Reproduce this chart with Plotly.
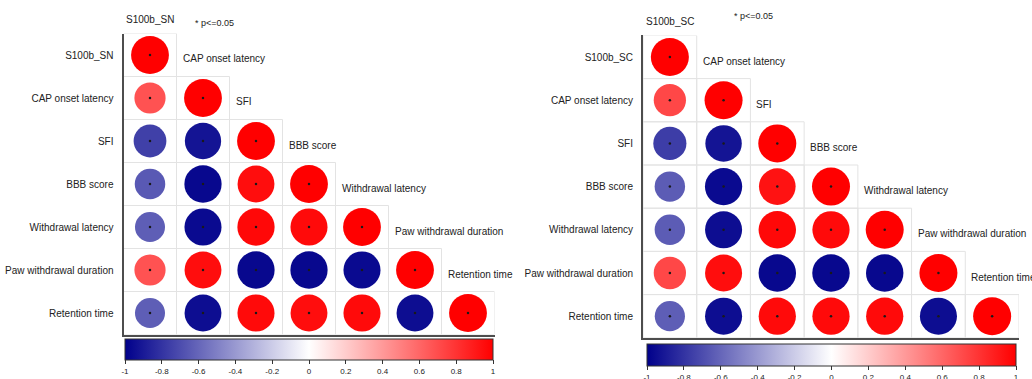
import plotly.graph_objects as go

W, H = 1032, 379

# Variables (rows / columns of each correlation matrix)
vars_sn = ["S100b_SN", "CAP onset latency", "SFI", "BBB score",
           "Withdrawal latency", "Paw withdrawal duration", "Retention time"]
vars_sc = ["S100b_SC", "CAP onset latency", "SFI", "BBB score",
           "Withdrawal latency", "Paw withdrawal duration", "Retention time"]

# Lower-triangle Pearson coefficients, row i holds columns 0..i
corr_sn = [
    [1.00],
    [0.68, 1.00],
    [-0.75, -0.92, 1.00],
    [-0.65, -0.97, 0.95, 1.00],
    [-0.63, -0.96, 0.97, 0.96, 1.00],
    [0.68, 0.95, -0.97, -0.97, -0.96, 1.00],
    [-0.63, -0.95, 0.96, 0.95, 0.96, -0.95, 1.00],
]
corr_sc = [
    [1.00],
    [0.72, 1.00],
    [-0.76, -0.92, 1.00],
    [-0.64, -0.96, 0.93, 1.00],
    [-0.64, -0.95, 0.97, 0.96, 1.00],
    [0.72, 0.95, -0.97, -0.97, -0.97, 1.00],
    [-0.63, -0.95, 0.96, 0.96, 0.96, -0.95, 1.00],
]
# significance flags (p <= 0.05) for every lower-triangle cell
sig_sn = [[True] * (i + 1) for i in range(7)]
sig_sc = [[True] * (i + 1) for i in range(7)]

cbar_vals = [-1, -0.8, -0.6, -0.4, -0.2, 0, 0.2, 0.4, 0.6, 0.8, 1]
cbar_text = ["-1", "-0.8", "-0.6", "-0.4", "-0.2", "0", "0.2", "0.4", "0.6", "0.8", "1"]

FONT = "Liberation Sans, Arial, sans-serif"
TXT = "#222222"
scale = [[0, "#00008B"], [0.5, "#FFFFFF"], [1, "#FF0000"]]

# panel geometry in pixels: (left, right, top, bottom) of the cell grid,
# colorbar (left, right, top, thickness), legend-note placement (column, px above grid)
panels = [
    dict(vars=vars_sn, corr=corr_sn, sig=sig_sn, box=(123.5, 494.5, 33.5, 334.5),
         cbar=(125, 493, 339, 21), note=(1.21, 10), ax=""),
    dict(vars=vars_sc, corr=corr_sc, sig=sig_sc, box=(643, 1019, 35.4, 337.8),
         cbar=(647, 1016, 344, 22), note=(1.55, 19), ax="2"),
]

fig = go.Figure()
shapes, annotations = [], []

for k, p in enumerate(panels):
    n = len(p["vars"])
    xs, ys, vals, sizes, sx, sy = [], [], [], [], [], []
    left, right, top, bottom = p["box"]
    cell_h = (bottom - top) / n
    for i, row in enumerate(p["corr"]):
        for j, r in enumerate(row):
            xs.append(j)
            ys.append(i)
            vals.append(r)
            sizes.append(0.88 * cell_h * abs(r) ** 0.5)
            if p["sig"][i][j]:
                sx.append(j)
                sy.append(i)
            shapes.append(dict(type="rect", xref="x" + p["ax"], yref="y" + p["ax"],
                               x0=j - 0.5, x1=j + 0.5, y0=i - 0.5, y1=i + 0.5,
                               line=dict(color="#e3e3e3", width=1), layer="below"))
    ca = "coloraxis" + p["ax"]
    fig.add_trace(go.Scatter(
        x=xs, y=ys, mode="markers", xaxis="x" + p["ax"], yaxis="y" + p["ax"],
        marker=dict(size=sizes, color=vals, coloraxis=ca, line=dict(width=0), opacity=1),
        hoverinfo="skip", showlegend=False))
    fig.add_trace(go.Scatter(
        x=sx, y=sy, mode="markers", xaxis="x" + p["ax"], yaxis="y" + p["ax"],
        marker=dict(size=2.5, color="#1a1a1a"), hoverinfo="skip", showlegend=False))

    # column labels: first column on top, the others next to the diagonal
    annotations.append(dict(text=p["vars"][0], x=0, y=-0.5, xref="x" + p["ax"], yref="y" + p["ax"],
                            showarrow=False, yshift=14, yanchor="middle",
                            font=dict(family=FONT, size=10, color=TXT)))
    for c in range(1, n):
        annotations.append(dict(text=p["vars"][c], x=c - 0.5, y=c - 1,
                                xref="x" + p["ax"], yref="y" + p["ax"],
                                showarrow=False, xanchor="left", xshift=4, yshift=-4,
                                font=dict(family=FONT, size=10, color=TXT)))
    annotations.append(dict(text="* p<=0.05", x=p["note"][0], y=-0.5,
                            xref="x" + p["ax"], yref="y" + p["ax"], showarrow=False,
                            yanchor="middle", yshift=p["note"][1],
                            font=dict(family=FONT, size=9, color=TXT)))

    xa = dict(domain=[left / W, right / W], range=[-0.5, n - 0.5], showgrid=False,
              zeroline=False, showticklabels=False, ticks="", showline=True,
              linecolor="#4d4d4d", linewidth=2, fixedrange=True)
    ya = dict(domain=[1 - bottom / H, 1 - top / H], range=[n - 0.5, -0.5], showgrid=False,
              zeroline=False, tickvals=list(range(n)), ticktext=p["vars"], ticks="",
              ticklabelstandoff=6, tickfont=dict(family=FONT, size=10, color=TXT),
              showline=True, linecolor="#4d4d4d", linewidth=2, fixedrange=True)
    if p["ax"]:
        xa["anchor"] = "y2"
        ya["anchor"] = "x2"
    fig.update_layout(**{"xaxis" + p["ax"]: xa, "yaxis" + p["ax"]: ya})

    cx0, cx1, cy, th = p["cbar"]
    fig.update_layout(**{ca: dict(
        colorscale=scale, cmin=-1, cmax=1,
        colorbar=dict(orientation="h", x=(cx0 + cx1) / 2 / W, xanchor="center",
                      y=1 - cy / H, yanchor="top", len=cx1 - cx0, lenmode="pixels",
                      thickness=th, xpad=0, ypad=0, outlinecolor="#333333", outlinewidth=1,
                      tickvals=cbar_vals, ticktext=cbar_text, ticks="outside", ticklen=4,
                      tickcolor="#333333", tickfont=dict(family=FONT, size=8, color=TXT)))})

fig.update_layout(width=W, height=H,
                  margin=dict(l=0, r=0, t=0, b=0, autoexpand=False),
                  paper_bgcolor="white", plot_bgcolor="white",
                  shapes=shapes, annotations=annotations, showlegend=False)

fig.write_html("out.html")
